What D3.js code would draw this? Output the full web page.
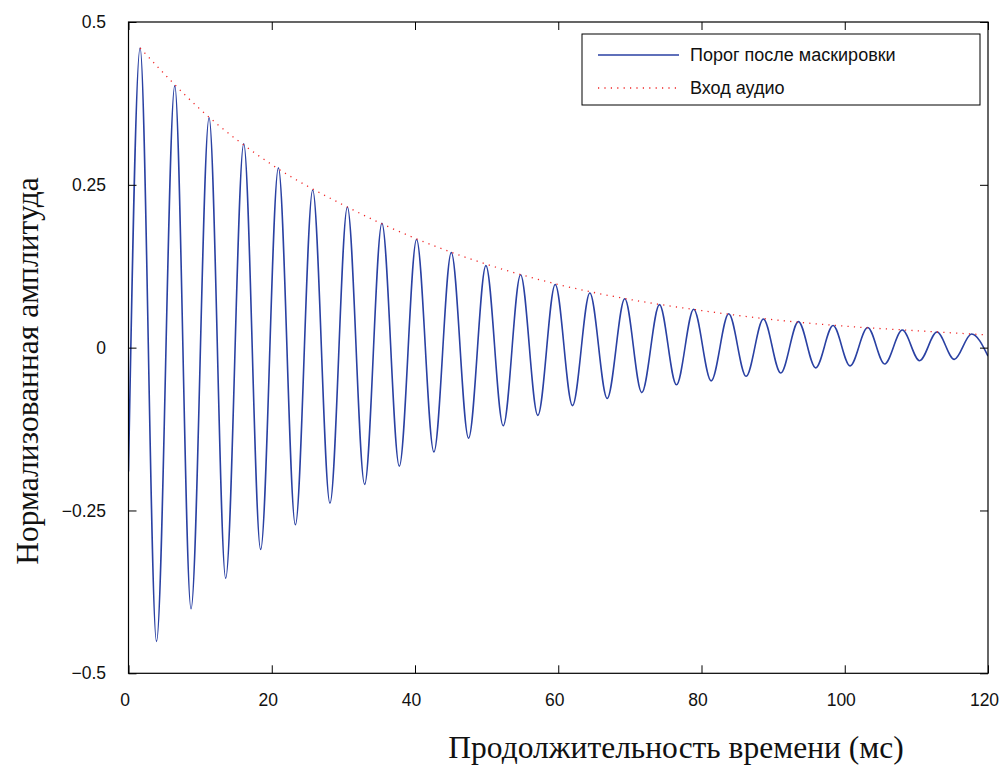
<!DOCTYPE html>
<html><head><meta charset="utf-8">
<script src="https://cdn.jsdelivr.net/npm/d3@7"></script>
<style>body{margin:0;background:#fff}</style>
</head><body><svg id="c" width="999" height="765"></svg>
<script>
// Extrema of the masked-threshold curve (ms, normalized amplitude)
const timeMs = [0, 1.62, 3.91, 6.46, 8.73, 11.25, 13.57, 16.09, 18.45, 20.93, 23.3, 25.72, 28.13,
  30.56, 32.97, 35.38, 37.81, 40.22, 42.64, 45.07, 47.48, 49.9, 52.32, 54.74, 57.15,
  59.58, 61.99, 64.41, 66.83, 69.29, 71.66, 74.13, 76.5, 78.91, 81.35, 83.8, 86.23,
  88.64, 91.06, 93.53, 95.94, 98.37, 100.74, 103.2, 105.57, 108.04, 110.45, 112.88, 115.29, 117.71, 120];
const amplitude = [-0.19, 0.460, -0.451, 0.402, -0.401, 0.353, -0.354, 0.313, -0.310, 0.276, -0.272, 0.242, -0.239,
  0.216, -0.210, 0.191, -0.182, 0.166, -0.160, 0.146, -0.139, 0.126, -0.120, 0.112, -0.104,
  0.097, -0.089, 0.084, -0.078, 0.075, -0.069, 0.066, -0.057, 0.059, -0.051, 0.052, -0.044,
  0.044, -0.039, 0.040, -0.031, 0.034, -0.028, 0.031, -0.025, 0.027, -0.020, 0.024, -0.018, 0.021, -0.013];
// Audio input envelope (red dotted)
const envTime = [1.62, 10, 20, 30, 40, 50, 60, 70, 80, 90, 100, 110, 120];
const envAmp = [0.460, 0.366, 0.281, 0.219, 0.168, 0.128, 0.097, 0.074, 0.057, 0.043, 0.033, 0.026, 0.0195];

const xTicks = [0, 20, 40, 60, 80, 100, 120];
const yTicks = [-0.5, -0.25, 0, 0.25, 0.5];
const yTickLabels = ["\u22120.5", "\u22120.25", "0", "0.25", "0.5"];
const seriesNames = ["Порог после маскировки", "Вход аудио"];
const xTitle = "Продолжительность времени (мс)";
const yTitle = "Нормализованная амплитуда";

const blue = "#2a41a3", red = "#f02424";
const sans = "'Liberation Sans', Arial, sans-serif";
const serif = "'Liberation Serif', 'Times New Roman', serif";

const P = {left: 128.5, top: 22, right: 988, bottom: 673.3};
const svg = d3.select("#c");
const x = d3.scaleLinear().domain([0, 120]).range([P.left, P.right]);
const y = d3.scaleLinear().domain([-0.5, 0.5]).range([P.bottom, P.top]);

// data lines
const mainData = timeMs.map((t, i) => [t, amplitude[i]]);
const envData = envTime.map((t, i) => [t, envAmp[i]]);
const line = d3.line().x(d => x(d[0])).y(d => y(d[1])).curve(d3.curveMonotoneX);

svg.append("defs").append("clipPath").attr("id", "clip")
  .append("rect").attr("x", P.left).attr("y", P.top)
  .attr("width", P.right - P.left).attr("height", P.bottom - P.top);

const g = svg.append("g").attr("clip-path", "url(#clip)");
g.append("path").attr("d", line(mainData)).attr("fill", "none")
  .attr("stroke", blue).attr("stroke-width", 1.6);
g.append("path").attr("d", line(envData)).attr("fill", "none")
  .attr("stroke", red).attr("stroke-width", 1.3).attr("stroke-dasharray", "1.2 5.2");

// axes
const fmtY = d => yTickLabels[yTicks.indexOf(d)];
const axB = svg.append("g").attr("transform", `translate(0,${P.bottom})`)
  .call(d3.axisBottom(x).tickValues(xTicks).tickSize(-8).tickSizeOuter(0).tickPadding(20));
axB.selectAll("text").attr("dx", -4);
const axT = svg.append("g").attr("transform", `translate(0,${P.top})`)
  .call(d3.axisTop(x).tickValues(xTicks).tickSize(-8).tickSizeOuter(0).tickFormat(""));
const axL = svg.append("g").attr("transform", `translate(${P.left},0)`)
  .call(d3.axisLeft(y).tickValues(yTicks).tickSize(-8).tickSizeOuter(0).tickPadding(22.5).tickFormat(fmtY));
const axR = svg.append("g").attr("transform", `translate(${P.right},0)`)
  .call(d3.axisRight(y).tickValues(yTicks).tickSize(-8).tickSizeOuter(0).tickFormat(""));
[axB, axT, axL, axR].forEach(a => {
  a.select(".domain").remove();
  a.selectAll("line").attr("stroke", "#000").attr("stroke-width", 1);
  a.selectAll("text").attr("font-family", sans).attr("font-size", 17.5).attr("fill", "#111");
});
svg.append("rect").attr("x", P.left).attr("y", P.top)
  .attr("width", P.right - P.left).attr("height", P.bottom - P.top)
  .attr("fill", "none").attr("stroke", "#000").attr("stroke-width", 1.2);

// titles
svg.append("text").attr("x", 676).attr("y", 758).attr("text-anchor", "middle")
  .attr("font-family", serif).attr("font-size", 31.5).attr("fill", "#111").text(xTitle);
svg.append("text").attr("transform", "translate(38,371) rotate(-90)").attr("text-anchor", "middle")
  .attr("font-family", serif).attr("font-size", 31.5).attr("fill", "#111").text(yTitle);

// legend
const lg = svg.append("g");
lg.append("rect").attr("x", 582).attr("y", 34).attr("width", 398).attr("height", 71)
  .attr("fill", "#fff").attr("stroke", "#000").attr("stroke-width", 1);
const styles = [{c: blue, dash: null}, {c: red, dash: "1.2 5.2"}];
seriesNames.forEach((name, i) => {
  const yy = 55 + i * 33;
  lg.append("line").attr("x1", 598).attr("x2", 679).attr("y1", yy).attr("y2", yy)
    .attr("stroke", styles[i].c).attr("stroke-width", 1.3)
    .attr("stroke-dasharray", styles[i].dash);
  lg.append("text").attr("x", 690).attr("y", yy).attr("dy", "0.35em")
    .attr("font-family", sans).attr("font-size", 18).attr("fill", "#111").text(name);
});
</script>
</body></html>
